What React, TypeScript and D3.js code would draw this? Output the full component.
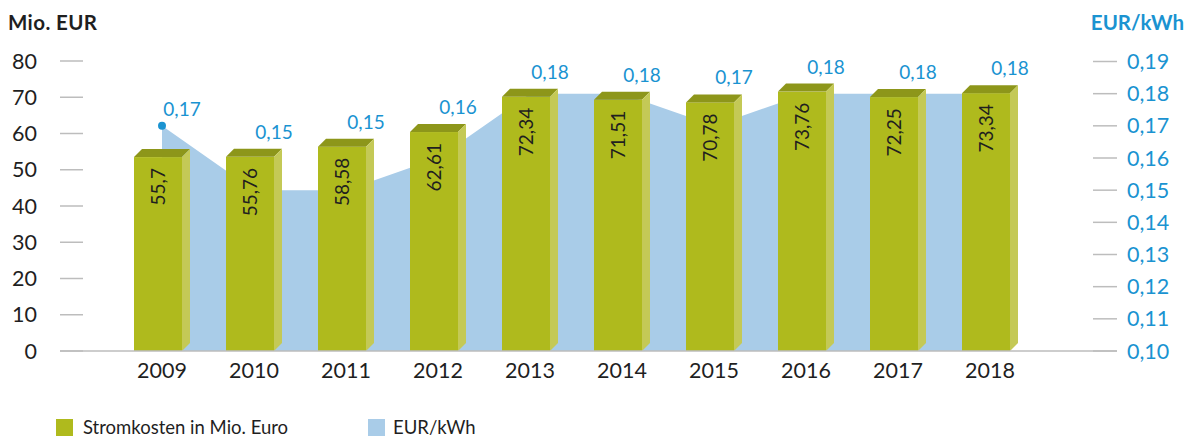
import React from "react";
import * as d3 from "d3";

const years = ["2009", "2010", "2011", "2012", "2013", "2014", "2015", "2016", "2017", "2018"];
const costs = [55.7, 55.76, 58.58, 62.61, 72.34, 71.51, 70.78, 73.76, 72.25, 73.34];
const costLabels = ["55,7", "55,76", "58,58", "62,61", "72,34", "71,51", "70,78", "73,76", "72,25", "73,34"];
const prices = [0.17, 0.15, 0.15, 0.16, 0.18, 0.18, 0.17, 0.18, 0.18, 0.18];
const leftTicks = [0, 10, 20, 30, 40, 50, 60, 70, 80];
const rightTicks = [0.1, 0.11, 0.12, 0.13, 0.14, 0.15, 0.16, 0.17, 0.18, 0.19];

const W = 1190;
const H = 440;
const FONT = "Lato, 'Noto Sans', sans-serif";
const BLUE = "#1a93d1";
const AREA = "#a9cce8";
const FRONT = "#afba1d";
const TOP = "#8d961a";
const SIDE = "#c4c956";
const DARK = "#1f1f1f";
const GRID = "#bdbdbd";

const fmt = (v: number) => v.toFixed(2).replace(".", ",");

export default function App() {
  const x = d3.scalePoint<string>().domain(years).range([162, 990]);
  const yL = d3.scaleLinear().domain([0, 80]).range([351, 61]);
  const yR = d3.scaleLinear().domain([0.1, 0.19]).range([351, 61.5]);
  const base = yL(0);
  const dx = 8;
  const dy = 8;

  const area = d3
    .area<number>()
    .x((_, i) => x(years[i]) as number)
    .y0(base)
    .y1((d) => yR(d));

  return (
    <svg width={W} height={H} style={{ display: "block", position: "absolute", left: 0, top: 0 }} fontFamily={FONT}>
      {/* axis titles */}
      <text x={8} y={30} fontSize={20.5} fontWeight={700} fill={DARK} textLength={89}>Mio. EUR</text>
      <text x={1184} y={30} fontSize={20.5} fontWeight={700} fill={BLUE} textAnchor="end">EUR/kWh</text>

      {/* left ticks */}
      {leftTicks.map((t) => (
        <g key={"l" + t}>
          <line x1={60} x2={83} y1={yL(t)} y2={yL(t)} stroke={GRID} strokeWidth={1.5} />
          <text x={37} y={yL(t) + 7.5} fontSize={21.5} fill={DARK} textAnchor="end">{t}</text>
        </g>
      ))}
      {/* right ticks */}
      {rightTicks.map((t) => (
        <g key={"r" + t}>
          <line x1={1093} x2={1117} y1={yR(t)} y2={yR(t)} stroke={GRID} strokeWidth={1.5} />
          <text x={1127} y={yR(t) + 7.5} fontSize={21.5} fill={BLUE}>{fmt(t)}</text>
        </g>
      ))}

      {/* area */}
      <path d={area(prices) || ""} fill={AREA} />
      <circle cx={x(years[0]) as number} cy={yR(prices[0])} r={4} fill={BLUE} />

      {/* bars */}
      {costs.map((v, i) => {
        const c = x(years[i]) as number;
        const l = c - 28;
        const r = c + 20;
        const ft = yL(v) + dy;
        return (
          <g key={"b" + i}>
            <rect x={l} y={ft} width={r - l} height={base - ft} fill={FRONT} />
            <path d={`M${l},${ft}L${l + dx},${ft - dy}L${r + dx},${ft - dy}L${r},${ft}Z`} fill={TOP} />
            <path d={`M${r},${ft}L${r + dx},${ft - dy}L${r + dx},${base - dy}L${r},${base}Z`} fill={SIDE} />
            <text
              transform={`translate(${(l + r) / 2 + 6.5},${ft + 11}) rotate(-90)`}
              fontSize={19}
              fill={DARK}
              textAnchor="end"
            >
              {costLabels[i]}
            </text>
          </g>
        );
      })}

      {/* price labels */}
      {prices.map((p, i) => {
        const c = x(years[i]) as number;
        const top = Math.min(yL(costs[i]), yR(p));
        return (
          <text key={"p" + i} x={c + 20} y={top - 10} fontSize={19} fill={BLUE} textAnchor="middle">
            {fmt(p)}
          </text>
        );
      })}

      {/* baseline */}
      <line x1={60} x2={1117} y1={base} y2={base} stroke={GRID} strokeWidth={1.5} />

      {/* x labels */}
      {years.map((yr) => (
        <text key={"x" + yr} x={x(yr) as number} y={378} fontSize={21.5} fill={DARK} textAnchor="middle">
          {yr}
        </text>
      ))}

      {/* legend */}
      <rect x={56} y={419} width={17} height={17} fill={FRONT} />
      <text x={83} y={434} fontSize={18.5} fill={DARK}>Stromkosten in Mio. Euro</text>
      <rect x={368} y={419} width={17} height={17} fill={AREA} />
      <text x={393} y={434} fontSize={18.5} fill={DARK}>EUR/kWh</text>
    </svg>
  );
}
